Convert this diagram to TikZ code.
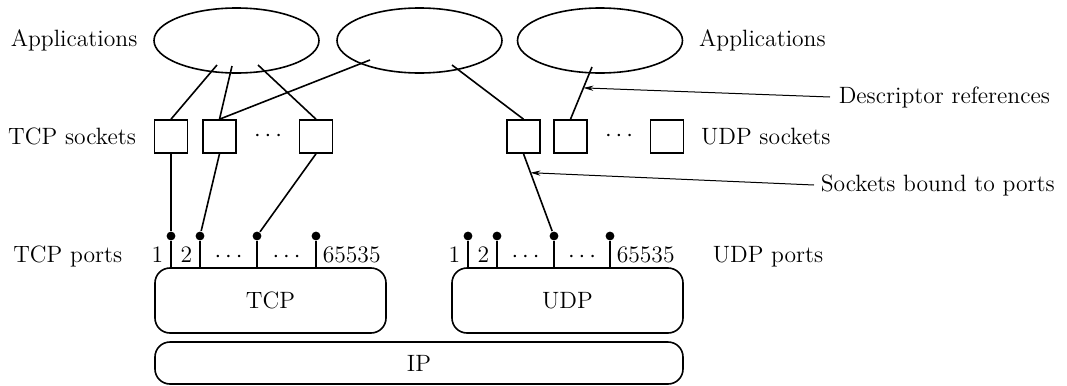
\documentclass[tikz,border=0pt]{standalone}
\usepackage{tikz}
\usetikzlibrary{arrows.meta,positioning,shapes.geometric,calc}

\begin{document}
\begin{tikzpicture}[x=0.5pt, y=-0.5pt, font=\fontsize{11.8}{14}\selectfont, line width=0.8pt,
  app/.style={draw, ellipse, minimum width=82.5pt, minimum height=32.5pt},
  sock/.style={draw, rectangle, minimum width=16.5pt, minimum height=16.5pt},
  layer/.style={draw, rounded corners=7.5pt, minimum width=115.5pt, minimum height=32.5pt},
  port/.style={circle, fill, inner sep=0pt, minimum size=4.4pt},
  lbl/.style={inner sep=0pt},
  note/.style={-{Stealth[length=5pt,width=2.6pt]}, line width=0.5pt}]
	\useasboundingbox (0,0) rectangle (1067,386);
	% applications
	\node[app] (app1) at (236.5,40.5) {};
	\node[app] (app2) at (419.5,40.5) {};
	\node[app] (app3) at (600,40.5) {};
	\node[lbl, left=7.5pt of app1] (appl) {Applications};
	\node[lbl, right=7.5pt of app3] (appr) {Applications};
	\coordinate (app1s1) at (217,65);
	\coordinate (app1s2) at (232,66);
	\coordinate (app1s3) at (258,65);
	\coordinate (app2s1) at (370,60);
	\coordinate (app2s2) at (452,65);
	\coordinate (app3s1) at (592,67);
	% sockets
	\node[sock] (ts1) at (171,136.5) {};
	\node[sock] (ts2) at (219.5,136.5) {};
	\node (tsdots) at (268,136.5) {$\cdots$};
	\node[sock] (ts3) at (316,136.5) {};
	\node[sock] (us1) at (523.5,136.5) {};
	\node[sock] (us2) at (570.5,136.5) {};
	\node (usdots) at (619,136.5) {$\cdots$};
	\node[sock] (us3) at (667,136.5) {};
	\node[lbl, left=8.5pt of ts1] (tcps) {TCP sockets};
	\node[lbl, right=8pt of us3] (udps) {UDP sockets};
	% layers
	\node[layer] (tcp) at (270.5,300.5) {TCP};
	\node[layer] (udp) at (567.5,300.5) {UDP};
	\node[layer, minimum width=264pt, minimum height=21pt] (ip) at (419,363) {IP};
	% ports
	\foreach \x/\n in {171/tp1, 200/tp2, 257/tp3, 316/tp4} {
		\node[port] (\n) at (\x,236) {};
		\draw (\n) -- (\n |- tcp.north);
	}
	\foreach \x/\n in {468/up1, 497/up2, 554/up3, 610/up4} {
		\node[port] (\n) at (\x,236) {};
		\draw (\n) -- (\n |- udp.north);
	}
	\node[lbl, anchor=base east] at (164,262) {1};
	\node[lbl, anchor=base east] at (193,262) {2};
	\node[lbl, anchor=base] at (228.5,262) {$\cdots$};
	\node[lbl, anchor=base] at (286.5,262) {$\cdots$};
	\node[lbl, anchor=base west] at (322,262) {65535};
	\node[lbl, anchor=base east] at (461,262) {1};
	\node[lbl, anchor=base east] at (490,262) {2};
	\node[lbl, anchor=base] at (525.5,262) {$\cdots$};
	\node[lbl, anchor=base] at (582,262) {$\cdots$};
	\node[lbl, anchor=base west] at (616,262) {65535};
	\node[lbl, anchor=base east] (tcpp) at (123,262) {TCP ports};
	\node[lbl, anchor=base west] (udpp) at (712,262) {UDP ports};
	% connections
	\draw (app1s1) -- (ts1.north);
	\draw (app1s2) -- (ts2.north);
	\draw (app1s3) -- (ts3.north);
	\draw (app2s1) -- (ts2.north);
	\draw (app2s2) -- (us1.north);
	\draw (app3s1) -- (us2.north);
	\draw (ts1.south) -- (tp1);
	\draw (ts2.south) -- (tp2);
	\draw (ts3.south) -- (tp3);
	\draw (us1.south) -- (up3);
	% notes
	\coordinate (dref) at ($(app3s1)!0.4!(us2.north)$);
	\coordinate (bref) at ($(us1.south)!0.23!(up3)$);
	\node[lbl, anchor=west] (descr) at (838,97) {Descriptor references};
	\node[lbl, anchor=west] (bound) at (820,185) {Sockets bound to ports};
	\draw[note] ([xshift=-4pt]descr.west) -- (dref);
	\draw[note] ([xshift=-3pt]bound.west) -- (bref);
\end{tikzpicture}
\end{document}
